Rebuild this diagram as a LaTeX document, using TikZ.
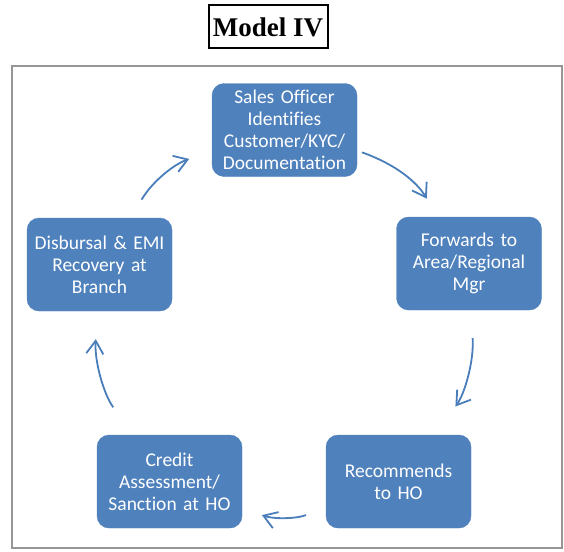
\documentclass[tikz,border=0pt]{standalone}
\usepackage{fontspec}
\setmainfont{Carlito}[Ligatures=NoCommon, WordSpace=0.8]
\newfontfamily\titlefont{Liberation Serif}
\usepackage{xcolor}
\definecolor{boxblue}{RGB}{79,129,189}
\definecolor{arrowblue}{RGB}{74,126,187}
\definecolor{framegray}{RGB}{150,150,150}
\usetikzlibrary{arrows.meta,positioning}
\tikzset{
  stagebox/.style={rectangle, rounded corners=12pt, fill=boxblue, draw=boxblue,
                   text=white, minimum width=145pt, minimum height=93pt,
                   text width=135pt, align=center,
                   font=\fontsize{19.5}{22}\selectfont},
  cycarrow/.style={draw=arrowblue, line width=1.8pt,
                   -{Straight Barb[length=13pt,width=17pt]}, bend left=20},
}

\begin{document}
\begin{tikzpicture}[x=1pt,y=-1pt]
\useasboundingbox (0,0) rectangle (564,551);
% title and frame
\node[draw=black, line width=2pt, minimum width=119pt, minimum height=43pt,
      font=\titlefont\bfseries\fontsize{27}{30}\selectfont] (title) at (268,27) {Model IV};
\draw[framegray, line width=2.5pt] (12,66) rectangle (562,548);

% stages
\node[stagebox] (sales)     at (284.5,130)   {Sales Officer\\Identifies\\Customer/KYC/\\Documentation};
\node[stagebox] (forward)   at (469,263.5)   {Forwards to\\Area/Regional\\Mgr};
\node[stagebox] (recommend) at (398.5,481.5) {Recommends\\to HO};
\node[stagebox] (credit)    at (169.5,481.5) {Credit\\Assessment/\\Sanction at HO};
\node[stagebox] (disburse)  at (99.5,264.5)  {Disbursal \& EMI\\Recovery at\\Branch};

% cycle
\draw[cycarrow, shorten <=21pt, shorten >=24pt] (disburse) to (sales);
\draw[cycarrow, shorten <=5pt,  shorten >=21pt] (sales) to (forward);
\draw[cycarrow, shorten <=28pt, shorten >=35pt] (forward) to (recommend);
\draw[cycarrow, shorten <=21pt, shorten >=21pt] (recommend) to (credit);
\draw[cycarrow, shorten <=34pt, shorten >=28pt] (credit) to (disburse);
\end{tikzpicture}
\end{document}
